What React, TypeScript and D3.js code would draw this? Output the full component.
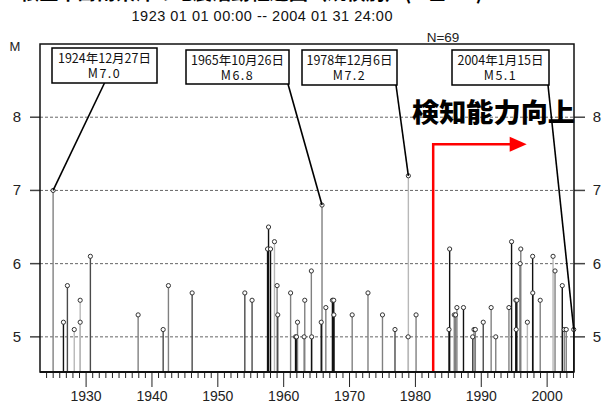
import React from "react";
import * as d3 from "d3";

// ---- data ----
const years = [1924.99, 1926.56, 1927.16, 1928.2, 1929.1, 1929.1, 1930.65, 1937.9, 1941.7, 1942.5, 1946.1, 1954.1, 1955.2, 1957.7, 1957.55, 1958.0, 1958.6, 1959.0, 1959.1, 1961.05, 1961.8, 1961.95, 1962.1, 1963.1, 1963.2, 1964.2, 1964.25, 1965.82, 1965.7, 1966.4, 1967.4, 1967.6, 1967.62, 1970.4, 1972.8, 1975.0, 1976.9, 1978.93, 1978.9, 1980.1, 1985.1, 1985.2, 1985.9, 1986.1, 1986.3, 1987.3, 1988.7, 1988.9, 1989.1, 1990.3, 1991.5, 1992.2, 1994.2, 1994.6, 1995.25, 1995.4, 1995.3, 1995.9, 1996.0, 1997.0, 1997.8, 1997.82, 1998.95, 2000.9, 2001.2, 2002.3, 2002.6, 2002.9, 2004.04];
const mags = [7.0, 5.2, 5.7, 5.1, 5.5, 5.2, 6.1, 5.3, 5.1, 5.7, 5.6, 5.6, 5.5, 6.5, 6.2, 6.2, 6.3, 5.7, 5.3, 5.6, 5.0, 5.0, 5.2, 5.0, 5.5, 5.9, 5.0, 6.8, 5.2, 5.4, 5.5, 5.5, 5.3, 5.3, 5.6, 5.3, 5.1, 7.2, 5.0, 5.3, 5.1, 6.2, 5.3, 5.3, 5.4, 5.4, 5.0, 5.1, 5.1, 5.2, 5.4, 5.0, 5.4, 6.3, 5.5, 5.5, 5.1, 6.0, 6.2, 5.2, 6.1, 5.6, 5.5, 6.1, 5.9, 5.7, 5.1, 5.1, 5.1];
// depth class (0 darkest shade ... 3 lightest)
const depthClass = [2, 0, 1, 3, 3, 3, 1, 2, 1, 2, 1, 1, 1, 0, 0, 0, 3, 2, 1, 2, 0, 0, 2, 2, 2, 2, 0, 2, 0, 2, 0, 0, 0, 2, 2, 2, 1, 3, 3, 2, 0, 0, 2, 2, 2, 0, 1, 2, 2, 1, 2, 2, 2, 0, 0, 0, 0, 1, 2, 3, 0, 0, 2, 3, 2, 0, 2, 2, 0];

const yTicks = [5, 6, 7, 8];
const xMajor = [1930, 1940, 1950, 1960, 1970, 1980, 1990, 2000];
const annDates = ["1924年12月27日", "1965年10月26日", "1978年12月6日", "2004年1月15日"];
const annMags = ["M7.0", "M6.8", "M7.2", "M5.1"];
const annEvent = [0, 27, 37, 68];
const detectionYear = 1982.7;
const arrowEndYear = 1996.9;
const arrowLevel = 7.63;

const titleText = "根室半島南東沖の地震活動経過図（規模別）(M≧5.0)";
const subtitle = "1923 01 01 00:00 -- 2004 01 31 24:00";
const countLabel = "N=69";
const noteText = "検知能力向上";

// ---- layout ----
const W = 614, H = 405;
const L = 40, R = 574, T = 44, B = 372;
const boxes = [
  { x: 52, y: 48, w: 105, h: 35, anchor: "c" },
  { x: 186, y: 50, w: 103, h: 34, anchor: "r" },
  { x: 302, y: 50, w: 95, h: 35, anchor: "r" },
  { x: 452, y: 50, w: 97, h: 35, anchor: "r" },
];

export default function App() {
  const x = d3.scaleLinear().domain([1923, 2004.08]).range([L, R]);
  const y = d3.scaleLinear().domain([4.52, 9.0]).range([B, T]);
  const color = d3.scaleOrdinal<number, string>().domain([0, 1, 2, 3]).range(["#111", "#4a4a4a", "#808080", "#b8b8b8"]);
  const minorYears = d3.range(1924, 2005);
  const events = years.map((yr, i) => ({ yr, m: mags[i], d: depthClass[i] }));
  const font = "'Liberation Sans', Arial, sans-serif";
  const jfont = "'Noto Sans CJK JP', sans-serif";

  const ax = x(detectionYear), ay = y(arrowLevel), aex = x(arrowEndYear);

  return (
    <svg width={W} height={H} style={{ position: "absolute", left: 0, top: 0, background: "#fff" }}>
      <rect x={0} y={0} width={W} height={H} fill="#fff" />
      {/* title (cropped at top edge, as in the reference) */}
      <text x={20} y={-1} fontFamily={jfont} fontWeight={700} fontSize={24} textLength={463} lengthAdjust="spacingAndGlyphs">{titleText}</text>
      <text x={262} y={20.5} textAnchor="middle" fontFamily={font} fontSize={14.5} fill="#111" textLength={261} lengthAdjust="spacing">{subtitle}</text>
      <text x={443} y={42} textAnchor="middle" fontFamily={font} fontSize={13.5} fill="#222">{countLabel}</text>
      <text x={15} y={51} textAnchor="middle" fontFamily={font} fontSize={13} fill="#222">M</text>

      {/* gridlines */}
      {yTicks.map((t) => (
        <g key={"g" + t}>
          <line x1={L} x2={R} y1={y(t)} y2={y(t)} stroke="#666" strokeWidth={1} strokeDasharray="3,2" />
          <line x1={L - 10} x2={L} y1={y(t)} y2={y(t)} stroke="#444" strokeWidth={1.5} />
          <line x1={R} x2={R + 11} y1={y(t)} y2={y(t)} stroke="#444" strokeWidth={1.5} />
          <text x={17} y={y(t) + 5} textAnchor="middle" fontFamily={font} fontSize={15} fill="#222">{t}</text>
          <text x={597} y={y(t) + 5} textAnchor="middle" fontFamily={font} fontSize={15} fill="#222">{t}</text>
        </g>
      ))}

      {/* x ticks */}
      {minorYears.map((yr) => (
        <line key={"mt" + yr} x1={x(yr)} x2={x(yr)} y1={B} y2={xMajor.includes(yr) ? B + 15 : B + 6} stroke="#222" strokeWidth={1} />
      ))}
      {xMajor.map((yr) => (
        <text key={"xl" + yr} x={x(yr)} y={401} textAnchor="middle" fontFamily={font} fontSize={14} fill="#222">{yr}</text>
      ))}

      {/* red arrow */}
      <polyline points={`${ax},${B} ${ax},${ay} ${aex - 15},${ay}`} fill="none" stroke="#f00" strokeWidth={2.5} />
      <polygon points={`${aex - 17},${ay - 7.5} ${aex},${ay} ${aex - 17},${ay + 7.5}`} fill="#f00" />

      {/* stems */}
      {events.map((e, i) => (
        <line key={"s" + i} x1={x(e.yr)} x2={x(e.yr)} y1={B} y2={y(e.m)} stroke={color(e.d)} strokeWidth={1.4} />
      ))}
      {events.map((e, i) => (
        <circle key={"c" + i} cx={x(e.yr)} cy={y(e.m)} r={2.1} fill="#fff" stroke="#333" strokeWidth={1} />
      ))}

      {/* frame */}
      <rect x={L} y={T} width={R - L} height={B - T} fill="none" stroke="#111" strokeWidth={1.5} />
      <line x1={L} x2={R} y1={B} y2={B} stroke="#111" strokeWidth={2} />

      {/* annotations */}
      {boxes.map((b, i) => {
        const ev = events[annEvent[i]];
        const sx = b.anchor === "c" ? b.x + b.w / 2 : b.x + b.w - 1;
        const sy = b.y + b.h;
        return (
          <g key={"a" + i}>
            <line x1={sx} y1={sy} x2={x(ev.yr)} y2={y(ev.m)} stroke="#000" strokeWidth={1.6} />
            <rect x={b.x} y={b.y} width={b.w} height={b.h} fill="#fff" stroke="#000" strokeWidth={1.5} />
            <text x={b.x + b.w / 2} y={b.y + 15} textAnchor="middle" fontFamily={jfont} fontSize={12.5} fill="#111">{annDates[i]}</text>
            <text x={b.x + b.w / 2} y={b.y + 30} textAnchor="middle" fontFamily={jfont} fontSize={12.5} fill="#111" letterSpacing={1.5}>{annMags[i]}</text>
          </g>
        );
      })}

      <text x={412} y={122} fontFamily={jfont} fontWeight={900} fontSize={26} fill="#000" textLength={163} lengthAdjust="spacingAndGlyphs">{noteText}</text>
    </svg>
  );
}
